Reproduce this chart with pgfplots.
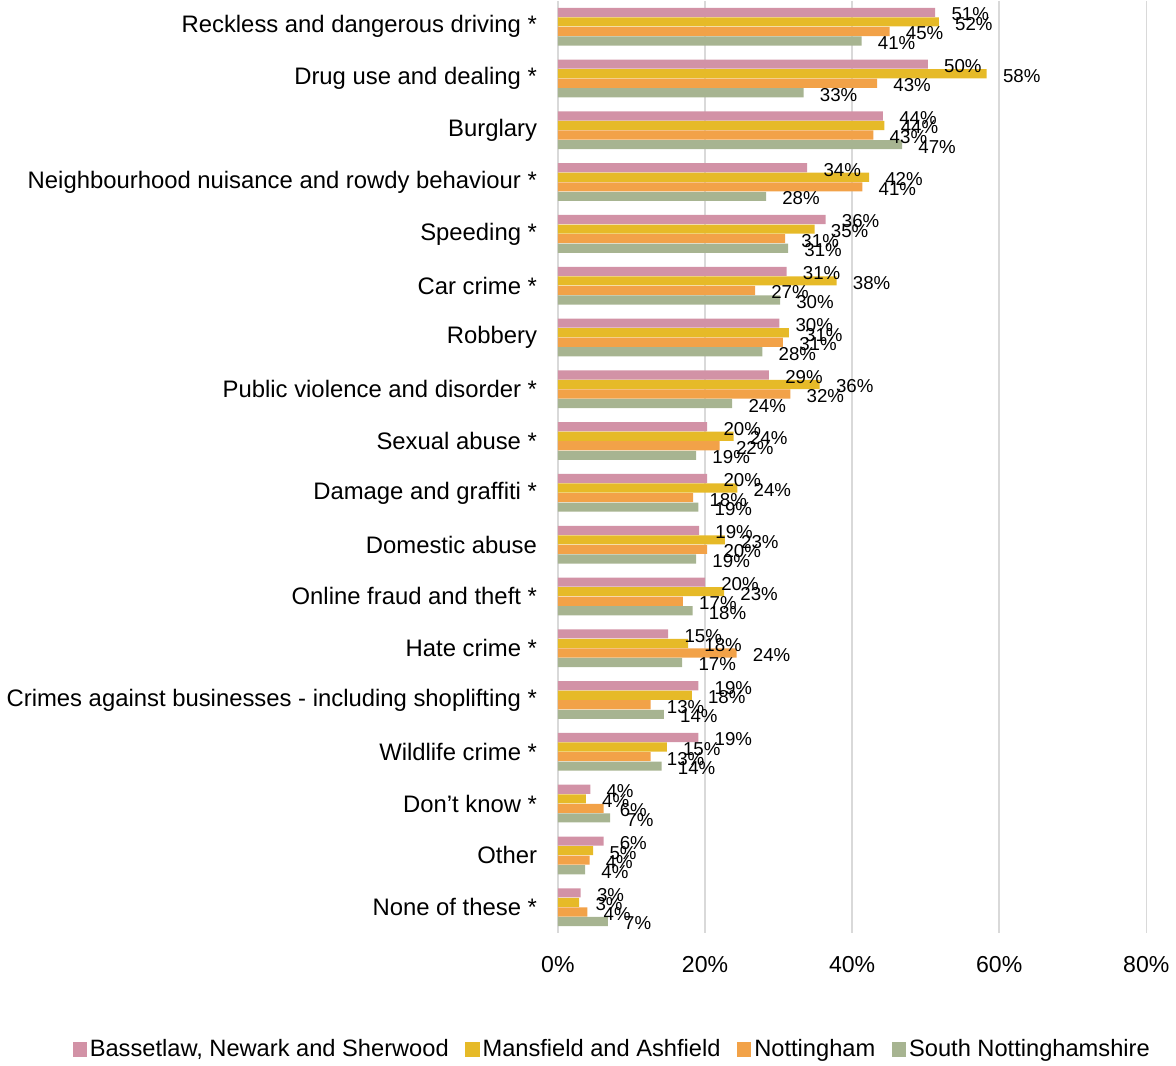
\documentclass[border=0pt]{standalone}
\usepackage{fontspec}
\setmainfont{Liberation Sans}
\usepackage{pgfplots}
\pgfplotsset{compat=1.18}
\definecolor{cpink}{HTML}{D292A6}
\definecolor{cyellow}{HTML}{E6BA28}
\definecolor{corange}{HTML}{F2A248}
\definecolor{cgreen}{HTML}{A7B491}
\pgfplotsset{legsq/.style={legend image code/.code={\fill[##1,draw=none] (0pt,-3.6pt) rectangle (7.2pt,3.6pt);}}}
\begin{document}
\begin{tikzpicture}
\begin{axis}[
  scale only axis, width=296pt, height=469pt,
  xbar, bar width=4.6pt,
  xmin=0, xmax=80, ymin=-0.5, ymax=17.5, y dir=reverse,
  /pgf/number format/assume math mode=true,
  xtick={0,20,40,60,80},
  xticklabel={\pgfmathprintnumber{\tick}\%},
  xticklabel style={font=\fontsize{11.6}{13}\selectfont, yshift=-8pt},
  ytick={0,...,17},
  yticklabels={Reckless and dangerous driving *, Drug use and dealing *, Burglary, Neighbourhood nuisance and rowdy behaviour *, Speeding *, Car crime *, Robbery, Public violence and disorder *, Sexual abuse *, Damage and graffiti *, Domestic abuse, Online fraud and theft *, Hate crime *, Crimes against businesses - including shoplifting *, Wildlife crime *, Don’t know *, Other, None of these *},
  yticklabel style={font=\fontsize{12}{14}\selectfont, xshift=-7pt},
  axis line style={draw=none},
  major tick length=0pt,
  xmajorgrids, grid style={draw=black!15, line width=0.8pt},
  point meta=x,
  nodes near coords={\pgfmathprintnumber[fixed,precision=0]{\pgfplotspointmeta}\%},
  every node near coord/.append style={font=\fontsize{9.4}{10}\selectfont, inner sep=0pt, anchor=west, xshift=8pt, yshift=-1pt, text=black},
  legend columns=-1,
  legend style={draw=none, at={(0.093,-0.125)}, anchor=center, font=\fontsize{11.9}{13}\selectfont, column sep=0pt, nodes={inner xsep=1.5pt, inner ysep=1pt}, /tikz/every even column/.append style={column sep=6.8pt}},
]
\addplot[fill=cpink, draw=none, bar shift=7.2pt, legsq] coordinates {
(51.3,0) (50.3,1) (44.2,2) (33.9,3) (36.4,4) (31.1,5) (30.1,6) (28.7,7) (20.3,8) (20.3,9) (19.2,10) (20.0,11) (15.0,12) (19.1,13) (19.1,14) (4.4,15) (6.2,16) (3.1,17)};
\addplot[fill=cyellow, draw=none, bar shift=2.4pt, legsq] coordinates {
(51.8,0) (58.3,1) (44.4,2) (42.3,3) (34.9,4) (37.9,5) (31.4,6) (35.6,7) (23.9,8) (24.4,9) (22.7,10) (22.6,11) (17.7,12) (18.2,13) (14.8,14) (3.8,15) (4.8,16) (2.9,17)};
\addplot[fill=corange, draw=none, bar shift=-2.4pt, legsq] coordinates {
(45.1,0) (43.4,1) (42.9,2) (41.4,3) (30.9,4) (26.8,5) (30.6,6) (31.6,7) (22.0,8) (18.4,9) (20.3,10) (17.0,11) (24.3,12) (12.6,13) (12.6,14) (6.2,15) (4.3,16) (4.0,17)};
\addplot[fill=cgreen, draw=none, bar shift=-7.2pt, legsq] coordinates {
(41.3,0) (33.4,1) (46.8,2) (28.3,3) (31.3,4) (30.2,5) (27.8,6) (23.7,7) (18.8,8) (19.1,9) (18.8,10) (18.3,11) (16.9,12) (14.4,13) (14.1,14) (7.1,15) (3.7,16) (6.8,17)};
\legend{{Bassetlaw, Newark and Sherwood}, Mansfield and Ashfield, Nottingham, South Nottinghamshire}
\end{axis}
\end{tikzpicture}
\end{document}
